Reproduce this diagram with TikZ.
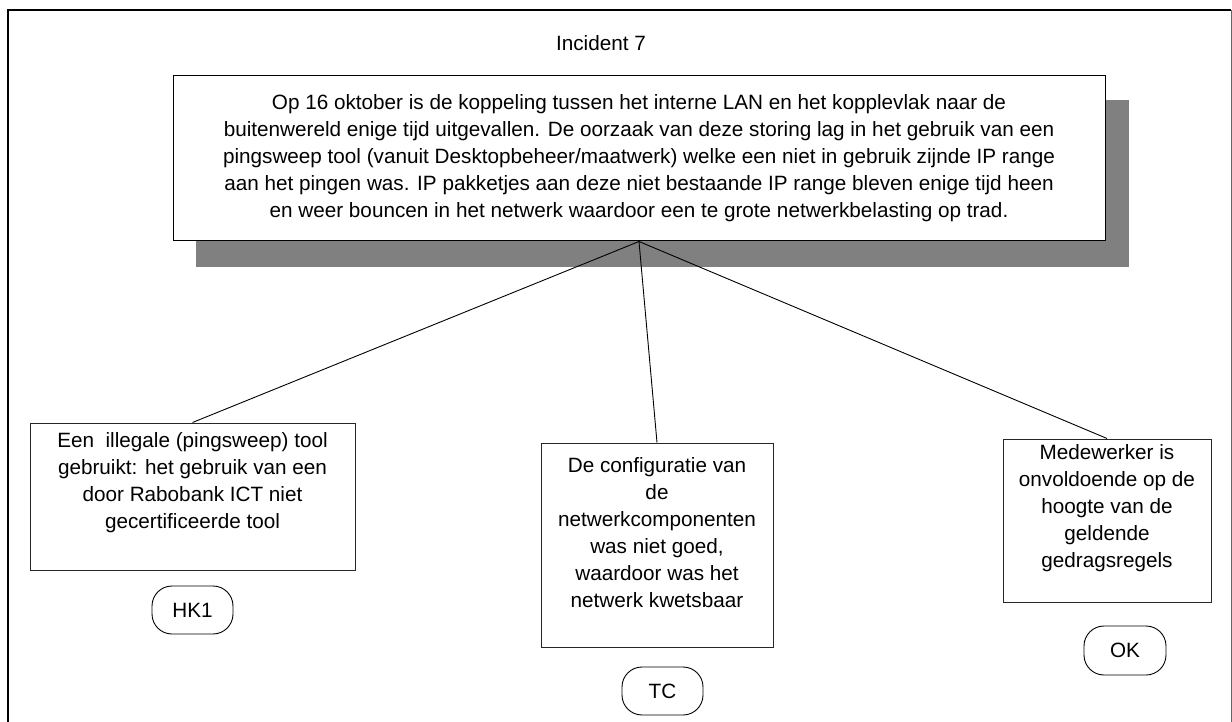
\documentclass[tikz,border=0pt]{standalone}
\usepackage{fontspec}
\setmainfont{Liberation Sans}
\begin{document}
\begin{tikzpicture}[x=1pt,y=-1pt,
  txt/.style={font=\fontsize{20.7}{27}\selectfont, align=center, inner sep=0pt},
  box/.style={draw=black!85, line width=1pt, fill=white, inner sep=0pt},
  tag/.style={draw=black, line width=0.9pt, rounded corners=20pt, inner sep=0pt,
              font=\fontsize{20.7}{27}\selectfont},
  link/.style={draw=black, line width=0.9pt}]
\useasboundingbox (0,0) rectangle (1232,722);

% outer frame
\draw[line width=2.2pt, black] (8,722) -- (8,10) -- (1231,10);
\draw[line width=1pt, black!60] (1231,10) -- (1231,722);

% title
\node[txt] (title) at (601,43) {Incident 7};

% shadow and main description
\node[fill=black!50, inner sep=0pt, minimum width=933pt, minimum height=167pt] (shadow) at (662.5,183.5) {};
\node[box, minimum width=932pt, minimum height=165pt, txt, draw=black] (main) at (639,158.5)
  {Op 16 oktober is de koppeling tussen het interne LAN en het kopplevlak naar de\\
   buitenwereld enige tijd uitgevallen. De oorzaak van deze storing lag in het gebruik van een\\
   pingsweep tool (vanuit Desktopbeheer/maatwerk) welke een niet in gebruik zijnde IP range\\
   aan het pingen was. IP pakketjes aan deze niet bestaande IP range bleven enige tijd heen\\
   en weer bouncen in het netwerk waardoor een te grote netwerkbelasting op trad.};

% cause boxes
\node[box, minimum width=325pt, minimum height=147pt] (left) at (192.5,496.5) {};
\node[txt] (lefttxt) at (192.5,483) {Een\ \ illegale (pingsweep) tool\\ gebruikt: het gebruik van een\\ door Rabobank ICT niet\\ gecertificeerde tool};

\node[box, minimum width=232pt, minimum height=204pt] (mid) at (657,545) {};
\node[txt] (midtxt) at (657,533) {De configuratie van\\ de\\ netwerkcomponenten\\ was niet goed,\\ waardoor was het\\ netwerk kwetsbaar};

\node[box, minimum width=208pt, minimum height=163pt] (right) at (1107,520.5) {};
\node[txt] (righttxt) at (1107,508) {Medewerker is\\ onvoldoende op de\\ hoogte van de\\ geldende\\ gedragsregels};

% category tags
\node[tag, minimum width=81pt, minimum height=48pt] (hk) at (192.5,610) {HK1};
\node[tag, minimum width=81pt, minimum height=48pt] (tc) at (662.5,691) {TC};
\node[tag, minimum width=82pt, minimum height=49pt] (ok) at (1125,650.5) {OK};

% connectors
\coordinate (hub) at (main.south);
\draw[link] (hub) -- (left.north);
\draw[link] (hub) -- (mid.north);
\draw[link] (hub) -- (right.north);
\end{tikzpicture}
\end{document}
